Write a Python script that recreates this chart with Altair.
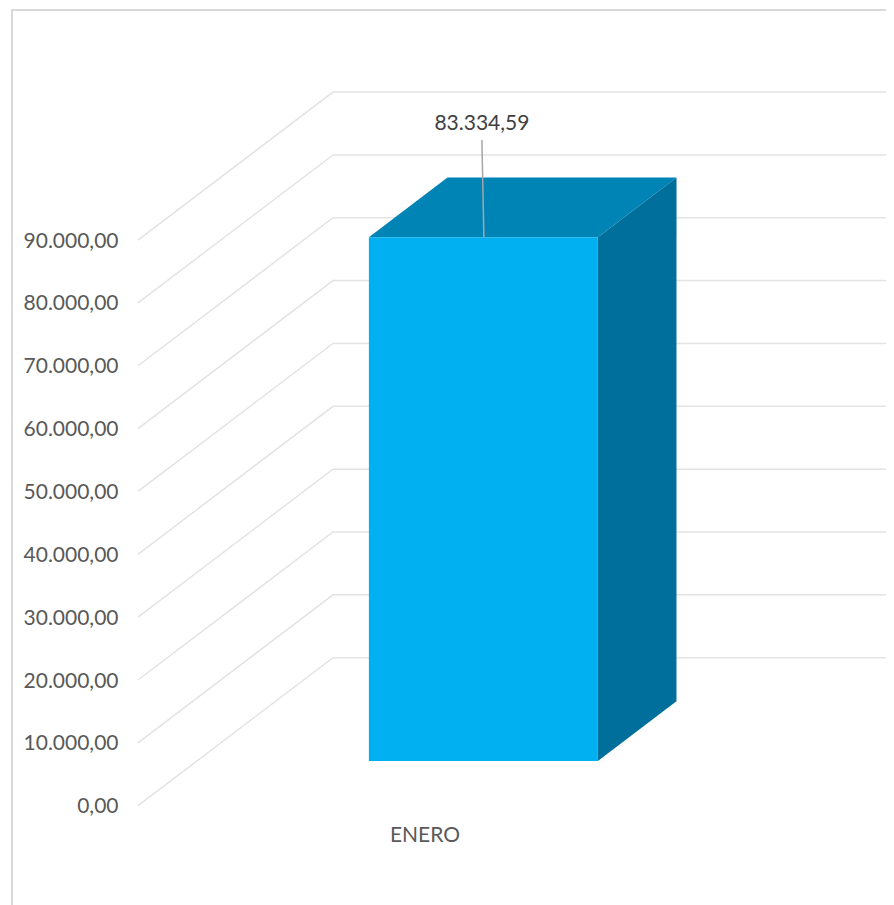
import altair as alt
import pandas as pd

# values
categories = ["ENERO"]
values = [83334.59]
ticks = [0, 10000, 20000, 30000, 40000, 50000, 60000, 70000, 80000, 90000]
data_labels = ["83.334,59"]

# page geometry of the oblique 3-D projection
PW, PH = 878, 897
PX_PER_UNIT = 62.85 / 10000
ZERO_Y = 805.7
DEPTH_X, DEPTH_Y = 195, 148
FLOOR_L, FLOOR_R = 310, 539
GRID_L, GRID_R = 138, 8 + PW
D0, D1 = 0.302, 0.705
FONT = "Lato"
FS = 21


def sx(x, depth=0.0):
    return x + depth * DEPTH_X


def sv(v, depth=0.0):
    return v + depth * DEPTH_Y / PX_PER_UNIT


def v_at(page_y):
    return (ZERO_Y - page_y) / PX_PER_UNIT


xs = alt.Scale(domain=[8, 8 + PW], nice=False, zero=False)
ys = alt.Scale(domain=[v_at(8 + PH), v_at(8)], nice=False, zero=False)
X = alt.X("x:Q", scale=xs, axis=None)
LAB = "replace(replace(replace(format(datum.value,',.2f'),',','#'),'.',','),'#','.')"
Y = alt.Y(
    "y:Q", scale=ys, title=None,
    axis=alt.Axis(
        values=ticks, labelExpr=LAB, domain=False, ticks=False, grid=False,
        labelPadding=0, offset=-110, labelFont=FONT, labelFontSize=FS,
        labelColor="#595959", labelOverlap=False, labelFlush=False, title=None,
        labelOffset=1,
    ),
)

grid_rows = []
for t in ticks:
    grid_rows += [
        {"t": t, "x": sx(GRID_L), "y": sv(t)},
        {"t": t, "x": sx(GRID_L, 1), "y": sv(t, 1)},
        {"t": t, "x": GRID_R, "y": sv(t, 1)},
    ]
grid = alt.Chart(pd.DataFrame(grid_rows)).mark_line(color="#E3E3E3", strokeWidth=1.5).encode(
    x=X, y=Y, detail="t:N"
)

v = values[0]
front = pd.DataFrame([
    {"x": sx(FLOOR_L, D0), "y": sv(v, D0), "y2": sv(0, D0)},
    {"x": sx(FLOOR_R, D0), "y": sv(v, D0), "y2": sv(0, D0)},
])
top = pd.DataFrame([
    {"x": sx(FLOOR_L, D0), "y": sv(v, D0), "y2": sv(v, D0)},
    {"x": sx(FLOOR_L, D1), "y": sv(v, D1), "y2": sv(v, D0)},
    {"x": sx(FLOOR_R, D0), "y": sv(v, D1), "y2": sv(v, D0)},
    {"x": sx(FLOOR_R, D1), "y": sv(v, D1), "y2": sv(v, D1)},
])
side = pd.DataFrame([
    {"x": sx(FLOOR_R, D0), "y": sv(v, D0), "y2": sv(0, D0)},
    {"x": sx(FLOOR_R, D1), "y": sv(v, D1), "y2": sv(0, D1)},
])


def face(df, color):
    return alt.Chart(df).mark_area(color=color, opacity=1, line=False).encode(
        x=X, y=Y, y2="y2:Q"
    )


center = (FLOOR_L + FLOOR_R) / 2
leader = alt.Chart(pd.DataFrame([
    {"x": sx(center, D0) - 1.5, "y": v_at(140)},
    {"x": sx(center, D0) + 0.5, "y": sv(v, D0)},
])).mark_line(color="#A6A6A6", strokeWidth=1.5).encode(x=X, y=Y)

label = alt.Chart(pd.DataFrame({
    "x": [sx(center, D0) - 1.5], "y": [v_at(123.5)], "t": data_labels,
})).mark_text(font=FONT, fontSize=FS, color="#404040").encode(x=X, y=Y, text="t:N")

cat = alt.Chart(pd.DataFrame({
    "x": [center + 0.5], "y": [v_at(835.5)], "t": categories,
})).mark_text(font=FONT, fontSize=FS, color="#595959").encode(x=X, y=Y, text="t:N")

border_l = alt.Chart(pd.DataFrame({"y": [v_at(10)], "y2": [v_at(8 + PH)]})).mark_rule(
    color="#D9D9D9", strokeWidth=2
).encode(x=alt.value(4), y=Y, y2="y2:Q")
border_t = alt.Chart(pd.DataFrame({"y": [v_at(10)]})).mark_rule(
    color="#D9D9D9", strokeWidth=2
).encode(x=alt.value(3), x2=alt.value(PW), y=Y)

chart = alt.layer(
    border_l, border_t, grid,
    face(top, "#0084B5"), face(side, "#006F9C"), face(front, "#00B0F0"),
    leader, label, cat,
).properties(
    width=PW, height=PH, padding=0, background="white",
    autosize=alt.AutoSizeParams(type="none"),
).configure_view(strokeWidth=0, stroke="transparent")

chart.save("out.html", embed_options={"renderer": "svg", "actions": False})
